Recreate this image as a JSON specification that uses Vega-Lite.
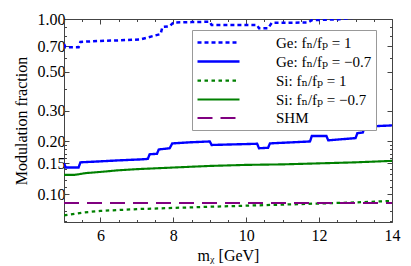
{
  "$schema": "https://vega.github.io/schema/vega-lite/v6.json",
  "width": 328,
  "height": 203,
  "autosize": {"type": "none"},
  "padding": {"left": 64, "top": 19, "right": 19, "bottom": 44},
  "background": "white",
  "config": {
    "font": "'Liberation Serif', 'Times New Roman', 'DejaVu Serif', serif",
    "view": {"stroke": null},
    "axis": {
      "grid": false,
      "domainColor": "#444444",
      "tickColor": "#444444",
      "labelColor": "black",
      "labelFont": "'Liberation Serif', 'Times New Roman', 'DejaVu Serif', serif",
      "titleFont": "'Liberation Serif', 'Times New Roman', 'DejaVu Serif', serif",
      "labelFontSize": 16,
      "titleFontSize": 16,
      "titleFontWeight": "normal",
      "titleColor": "black",
      "labelOverlap": false,
      "labelFlush": false
    },
    "legend": {
      "orient": "none",
      "legendX": 128,
      "legendY": 11,
      "fillColor": "white",
      "strokeColor": "#999999",
      "padding": 4,
      "symbolType": "M-3,0H3",
      "symbolSize": 196,
      "symbolStrokeWidth": 2.5,
      "symbolOffset": 14,
      "labelOffset": 49,
      "labelFont": "'Liberation Serif', 'Times New Roman', 'DejaVu Serif', serif",
      "labelFontSize": 15,
      "labelColor": "black",
      "labelLimit": 300,
      "rowPadding": 2
    }
  },
  "data": {
    "values": [
      {"series": "Ge: fₙ/fₚ = 1", "m": 5.0, "f": 0.72},
      {"series": "Ge: fₙ/fₚ = 1", "m": 5.04, "f": 0.69},
      {"series": "Ge: fₙ/fₚ = 1", "m": 5.4, "f": 0.69},
      {"series": "Ge: fₙ/fₚ = 1", "m": 5.45, "f": 0.74},
      {"series": "Ge: fₙ/fₚ = 1", "m": 6.0, "f": 0.75},
      {"series": "Ge: fₙ/fₚ = 1", "m": 6.5, "f": 0.755},
      {"series": "Ge: fₙ/fₚ = 1", "m": 7.1, "f": 0.765},
      {"series": "Ge: fₙ/fₚ = 1", "m": 7.45, "f": 0.8},
      {"series": "Ge: fₙ/fₚ = 1", "m": 7.65, "f": 0.82},
      {"series": "Ge: fₙ/fₚ = 1", "m": 7.7, "f": 0.9},
      {"series": "Ge: fₙ/fₚ = 1", "m": 7.9, "f": 0.91},
      {"series": "Ge: fₙ/fₚ = 1", "m": 8.0, "f": 0.955},
      {"series": "Ge: fₙ/fₚ = 1", "m": 8.5, "f": 0.96},
      {"series": "Ge: fₙ/fₚ = 1", "m": 9.0, "f": 0.965},
      {"series": "Ge: fₙ/fₚ = 1", "m": 9.05, "f": 0.925},
      {"series": "Ge: fₙ/fₚ = 1", "m": 10.3, "f": 0.925},
      {"series": "Ge: fₙ/fₚ = 1", "m": 10.35, "f": 0.885},
      {"series": "Ge: fₙ/fₚ = 1", "m": 10.6, "f": 0.885},
      {"series": "Ge: fₙ/fₚ = 1", "m": 10.7, "f": 0.95},
      {"series": "Ge: fₙ/fₚ = 1", "m": 11.7, "f": 0.955},
      {"series": "Ge: fₙ/fₚ = 1", "m": 11.8, "f": 0.985},
      {"series": "Ge: fₙ/fₚ = 1", "m": 12.5, "f": 0.995},
      {"series": "Ge: fₙ/fₚ = 1", "m": 13.0, "f": 1.02},
      {"series": "Ge: fₙ/fₚ = 1", "m": 14.0, "f": 1.04},
      {"series": "Ge: fₙ/fₚ = −0.7", "m": 5.0, "f": 0.15},
      {"series": "Ge: fₙ/fₚ = −0.7", "m": 5.05, "f": 0.142},
      {"series": "Ge: fₙ/fₚ = −0.7", "m": 5.4, "f": 0.142},
      {"series": "Ge: fₙ/fₚ = −0.7", "m": 5.45, "f": 0.152},
      {"series": "Ge: fₙ/fₚ = −0.7", "m": 6.0, "f": 0.154},
      {"series": "Ge: fₙ/fₚ = −0.7", "m": 6.5, "f": 0.156},
      {"series": "Ge: fₙ/fₚ = −0.7", "m": 7.1, "f": 0.158},
      {"series": "Ge: fₙ/fₚ = −0.7", "m": 7.3, "f": 0.159},
      {"series": "Ge: fₙ/fₚ = −0.7", "m": 7.35, "f": 0.169},
      {"series": "Ge: fₙ/fₚ = −0.7", "m": 7.55, "f": 0.17},
      {"series": "Ge: fₙ/fₚ = −0.7", "m": 7.6, "f": 0.18},
      {"series": "Ge: fₙ/fₚ = −0.7", "m": 7.9, "f": 0.183},
      {"series": "Ge: fₙ/fₚ = −0.7", "m": 7.97, "f": 0.195},
      {"series": "Ge: fₙ/fₚ = −0.7", "m": 8.5, "f": 0.198},
      {"series": "Ge: fₙ/fₚ = −0.7", "m": 9.0, "f": 0.2},
      {"series": "Ge: fₙ/fₚ = −0.7", "m": 9.05, "f": 0.191},
      {"series": "Ge: fₙ/fₚ = −0.7", "m": 10.3, "f": 0.194},
      {"series": "Ge: fₙ/fₚ = −0.7", "m": 10.35, "f": 0.183},
      {"series": "Ge: fₙ/fₚ = −0.7", "m": 10.6, "f": 0.184},
      {"series": "Ge: fₙ/fₚ = −0.7", "m": 10.65, "f": 0.195},
      {"series": "Ge: fₙ/fₚ = −0.7", "m": 11.75, "f": 0.2},
      {"series": "Ge: fₙ/fₚ = −0.7", "m": 11.8, "f": 0.215},
      {"series": "Ge: fₙ/fₚ = −0.7", "m": 12.2, "f": 0.215},
      {"series": "Ge: fₙ/fₚ = −0.7", "m": 12.25, "f": 0.203},
      {"series": "Ge: fₙ/fₚ = −0.7", "m": 13.0, "f": 0.209},
      {"series": "Ge: fₙ/fₚ = −0.7", "m": 13.05, "f": 0.223},
      {"series": "Ge: fₙ/fₚ = −0.7", "m": 13.2, "f": 0.225},
      {"series": "Ge: fₙ/fₚ = −0.7", "m": 13.25, "f": 0.243},
      {"series": "Ge: fₙ/fₚ = −0.7", "m": 14.0, "f": 0.247},
      {"series": "Si: fₙ/fₚ = 1", "m": 5.0, "f": 0.0757},
      {"series": "Si: fₙ/fₚ = 1", "m": 5.5, "f": 0.0785},
      {"series": "Si: fₙ/fₚ = 1", "m": 6.0, "f": 0.0803},
      {"series": "Si: fₙ/fₚ = 1", "m": 7.0, "f": 0.0822},
      {"series": "Si: fₙ/fₚ = 1", "m": 8.0, "f": 0.0835},
      {"series": "Si: fₙ/fₚ = 1", "m": 9.0, "f": 0.0848},
      {"series": "Si: fₙ/fₚ = 1", "m": 10.0, "f": 0.086},
      {"series": "Si: fₙ/fₚ = 1", "m": 11.0, "f": 0.0872},
      {"series": "Si: fₙ/fₚ = 1", "m": 12.0, "f": 0.0885},
      {"series": "Si: fₙ/fₚ = 1", "m": 13.0, "f": 0.0898},
      {"series": "Si: fₙ/fₚ = 1", "m": 14.0, "f": 0.0915},
      {"series": "Si: fₙ/fₚ = −0.7", "m": 5.0, "f": 0.129},
      {"series": "Si: fₙ/fₚ = −0.7", "m": 5.3, "f": 0.129},
      {"series": "Si: fₙ/fₚ = −0.7", "m": 5.6, "f": 0.132},
      {"series": "Si: fₙ/fₚ = −0.7", "m": 6.0, "f": 0.134},
      {"series": "Si: fₙ/fₚ = −0.7", "m": 6.5, "f": 0.137},
      {"series": "Si: fₙ/fₚ = −0.7", "m": 7.0, "f": 0.139},
      {"series": "Si: fₙ/fₚ = −0.7", "m": 8.0, "f": 0.142},
      {"series": "Si: fₙ/fₚ = −0.7", "m": 9.0, "f": 0.145},
      {"series": "Si: fₙ/fₚ = −0.7", "m": 10.0, "f": 0.147},
      {"series": "Si: fₙ/fₚ = −0.7", "m": 11.0, "f": 0.148},
      {"series": "Si: fₙ/fₚ = −0.7", "m": 12.0, "f": 0.15},
      {"series": "Si: fₙ/fₚ = −0.7", "m": 13.0, "f": 0.152},
      {"series": "Si: fₙ/fₚ = −0.7", "m": 14.0, "f": 0.155},
      {"series": "SHM", "m": 5.0, "f": 0.089},
      {"series": "SHM", "m": 14.0, "f": 0.089}
    ]
  },
  "layer": [
    {
      "mark": {"type": "line", "clip": true},
      "encoding": {
        "x": {
          "field": "m", "type": "quantitative",
          "scale": {"domain": [5, 14], "nice": false, "zero": false},
          "axis": {
            "orient": "bottom",
            "title": "mᵪ [GeV]",
            "values": [5, 5.5, 6, 6.5, 7, 7.5, 8, 8.5, 9, 9.5, 10, 10.5, 11, 11.5, 12, 12.5, 13, 13.5, 14],
            "labelExpr": "datum.value % 2 == 0 ? format(datum.value, 'd') : ''",
            "tickSize": {"condition": {"test": "datum.value % 2 == 0", "value": -5}, "value": -2.5},
            "labelPadding": 10,
            "titlePadding": 2
          }
        },
        "y": {
          "field": "f", "type": "quantitative",
          "scale": {"type": "log", "domain": [0.0694, 1], "nice": false},
          "axis": {
            "orient": "left",
            "title": "Modulation fraction",
            "values": [0.07, 0.08, 0.09, 0.1, 0.11, 0.12, 0.13, 0.14, 0.15, 0.16, 0.17, 0.18, 0.19, 0.2, 0.3, 0.4, 0.5, 0.6, 0.7, 0.8, 0.9, 1],
            "labelExpr": "indexof([0.1, 0.15, 0.2, 0.3, 0.5, 0.7, 1], datum.value) >= 0 ? format(datum.value, '.2f') : ''",
            "tickSize": {"condition": {"test": "indexof([0.1, 0.15, 0.2, 0.3, 0.5, 0.7, 1], datum.value) >= 0", "value": -5}, "value": -2.5},
            "labelPadding": 4,
            "titlePadding": 8
          }
        },
        "color": {
          "field": "series", "type": "nominal",
          "scale": {
            "domain": ["Ge: fₙ/fₚ = 1", "Ge: fₙ/fₚ = −0.7", "Si: fₙ/fₚ = 1", "Si: fₙ/fₚ = −0.7", "SHM"],
            "range": ["#0000ff", "#0000ff", "#008000", "#008000", "#800080"]
          },
          "legend": {"title": null}
        },
        "strokeDash": {
          "field": "series", "type": "nominal",
          "scale": {
            "domain": ["Ge: fₙ/fₚ = 1", "Ge: fₙ/fₚ = −0.7", "Si: fₙ/fₚ = 1", "Si: fₙ/fₚ = −0.7", "SHM"],
            "range": [[4, 3], [1, 0], [3.5, 3.5], [1, 0], [15, 8]]
          },
          "legend": {"title": null}
        },
        "strokeWidth": {
          "field": "series", "type": "nominal",
          "scale": {
            "domain": ["Ge: fₙ/fₚ = 1", "Ge: fₙ/fₚ = −0.7", "Si: fₙ/fₚ = 1", "Si: fₙ/fₚ = −0.7", "SHM"],
            "range": [2.5, 2, 2, 1.6, 2]
          },
          "legend": null
        }
      }
    },
    {
      "mark": {"type": "point", "opacity": 0},
      "encoding": {
        "x": {
          "field": "m", "type": "quantitative",
          "axis": {
            "orient": "top",
            "title": null,
            "labels": false,
            "values": [5, 5.5, 6, 6.5, 7, 7.5, 8, 8.5, 9, 9.5, 10, 10.5, 11, 11.5, 12, 12.5, 13, 13.5, 14],
            "tickSize": {"condition": {"test": "datum.value % 2 == 0", "value": -5}, "value": -2.5}
          }
        },
        "y": {
          "field": "f", "type": "quantitative",
          "axis": {
            "orient": "right",
            "title": null,
            "labels": false,
            "values": [0.07, 0.08, 0.09, 0.1, 0.11, 0.12, 0.13, 0.14, 0.15, 0.16, 0.17, 0.18, 0.19, 0.2, 0.3, 0.4, 0.5, 0.6, 0.7, 0.8, 0.9, 1],
            "tickSize": {"condition": {"test": "indexof([0.1, 0.15, 0.2, 0.3, 0.5, 0.7, 1], datum.value) >= 0", "value": -5}, "value": -2.5}
          }
        }
      }
    }
  ],
  "resolve": {"axis": {"x": "independent", "y": "independent"}}
}
